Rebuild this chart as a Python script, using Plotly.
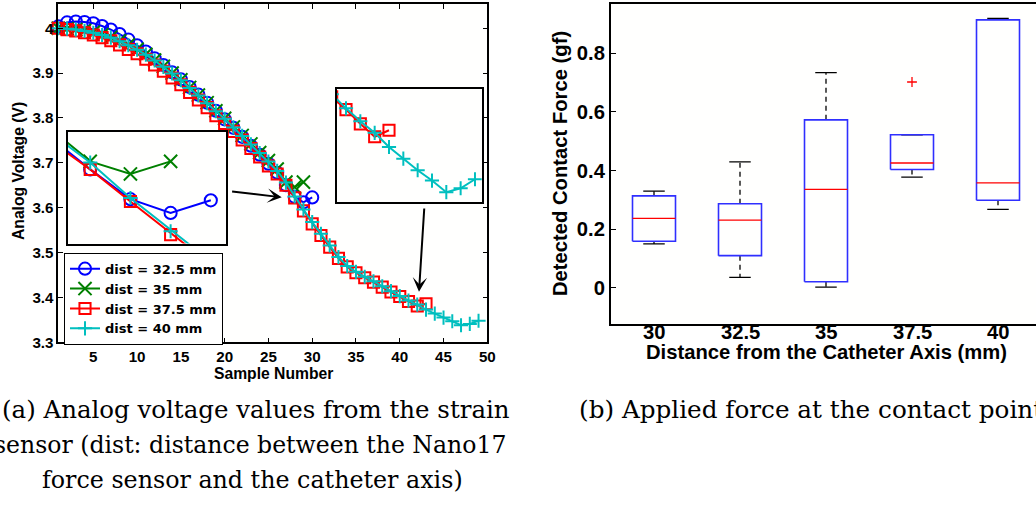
import plotly.graph_objects as go

# ---------------- data ----------------
series_names = ["dist = 32.5 mm", "dist = 35 mm", "dist = 37.5 mm", "dist = 40 mm"]

v_325 = [4.004, 4.013, 4.015, 4.014, 4.011, 4.005, 3.997, 3.987, 3.975, 3.962,
         3.948, 3.933, 3.918, 3.902, 3.886, 3.869, 3.852, 3.834, 3.816, 3.797,
         3.778, 3.758, 3.738, 3.718, 3.698, 3.678, 3.650, 3.624, 3.612, 3.623]
v_35 = [4.000, 3.999, 3.997, 3.995, 3.991, 3.986, 3.980, 3.972, 3.963, 3.953,
        3.942, 3.929, 3.915, 3.900, 3.885, 3.868, 3.851, 3.834, 3.816, 3.799,
        3.780, 3.761, 3.742, 3.723, 3.705, 3.686, 3.657, 3.646, 3.657]
v_375 = [4.000, 3.997, 3.994, 3.990, 3.985, 3.979, 3.972, 3.963, 3.953, 3.943,
         3.931, 3.918, 3.904, 3.889, 3.874, 3.857, 3.840, 3.823, 3.805, 3.788,
         3.770, 3.751, 3.732, 3.713, 3.693, 3.675, 3.650, 3.622, 3.593, 3.564,
         3.538, 3.512, 3.487, 3.468, 3.455, 3.444, 3.434, 3.423, 3.412, 3.402,
         3.391, 3.381, 3.386]
v_40 = [4.000, 3.999, 3.997, 3.994, 3.990, 3.985, 3.979, 3.971, 3.962, 3.952,
        3.941, 3.928, 3.914, 3.899, 3.884, 3.867, 3.850, 3.833, 3.815, 3.798,
        3.779, 3.760, 3.741, 3.722, 3.703, 3.682, 3.656, 3.625, 3.596, 3.568,
        3.542, 3.516, 3.490, 3.470, 3.457, 3.446, 3.436, 3.425, 3.414, 3.403,
        3.393, 3.384, 3.373, 3.364, 3.355, 3.347, 3.338, 3.341, 3.348]

x_ticks = [5, 10, 15, 20, 25, 30, 35, 40, 45, 50]
y_ticks = [3.3, 3.4, 3.5, 3.6, 3.7, 3.8, 3.9, 4.0]
y_ticktext = ["3.3", "3.4", "3.5", "3.6", "3.7", "3.8", "3.9", "4"]

# box plot (b)
box_cats = ["30", "32.5", "35", "37.5", "40"]
box_q1 = [0.159, 0.110, 0.021, 0.404, 0.299]
box_med = [0.237, 0.231, 0.336, 0.426, 0.358]
box_q3 = [0.314, 0.287, 0.573, 0.522, 0.914]
box_lo = [0.150, 0.036, 0.003, 0.378, 0.268]
box_hi = [0.330, 0.430, 0.734, 0.522, 0.919]
outlier_cat = ["37.5"]
outlier_val = [0.702]
box_yticks = [0, 0.2, 0.4, 0.6, 0.8]
box_yticktext = ["0", "0.2", "0.4", "0.6", "0.8"]

# ---------------- helpers ----------------
RW, RH = 1036, 506           # target picture size
W, H = 1044, 514             # figure size (picture is taken slightly larger and scaled)
SX, SY = W / RW, H / RH
FS = (SX + SY) / 2
def px(x):
    return x / RW
def py(y):
    return 1 - y / RH

SANS = "Liberation Sans"
SERIF = "DejaVu Serif"

styles = [
    dict(color="#0000ff", symbol="circle-open", size=12),
    dict(color="#008000", symbol="x-thin", size=13),
    dict(color="#ff0000", symbol="square-open", size=11),
    dict(color="#00bfbf", symbol="cross-thin", size=10),
]
values = [v_325, v_35, v_375, v_40]

fig = go.Figure()

for (xa, ya, main) in [("x", "y", True), ("x3", "y3", False), ("x4", "y4", False)]:
    for name, vals, st in zip(series_names, values, styles):
        fig.add_trace(go.Scatter(
            x=list(range(1, len(vals) + 1)), y=vals, name=name,
            mode="lines+markers", xaxis=xa, yaxis=ya,
            showlegend=main, cliponaxis=not main,
            line=dict(color=st["color"], width=2),
            marker=dict(symbol=st["symbol"], size=st["size"] * FS, color=st["color"],
                        line=dict(color=st["color"], width=2)),
            hoverinfo="skip",
        ))

# ---------------- box plot drawn from data ----------------
pos = {c: i + 1 for i, c in enumerate(box_cats)}
hw, cw = 0.25, 0.125
bx, by, mx, my, wx, wy, cx, cy = [], [], [], [], [], [], [], []
for c, a, m, b, lo, hi in zip(box_cats, box_q1, box_med, box_q3, box_lo, box_hi):
    p = pos[c]
    bx += [p - hw, p + hw, p + hw, p - hw, p - hw, None]
    by += [a, a, b, b, a, None]
    mx += [p - hw, p + hw, None]
    my += [m, m, None]
    wx += [p, p, None, p, p, None]
    wy += [b, hi, None, a, lo, None]
    cx += [p - cw, p + cw, None, p - cw, p + cw, None]
    cy += [hi, hi, None, lo, lo, None]

common = dict(xaxis="x2", yaxis="y2", showlegend=False, hoverinfo="skip", mode="lines")
fig.add_trace(go.Scatter(x=wx, y=wy, line=dict(color="black", width=1.3, dash="5px,4px"), **common))
fig.add_trace(go.Scatter(x=cx, y=cy, line=dict(color="black", width=1.3), **common))
fig.add_trace(go.Scatter(x=bx, y=by, line=dict(color="#2f2fff", width=1.6), **common))
fig.add_trace(go.Scatter(x=mx, y=my, line=dict(color="#ff0000", width=1.4), **common))
fig.add_trace(go.Scatter(x=[pos[c] for c in outlier_cat], y=outlier_val, xaxis="x2", yaxis="y2",
                         mode="markers", showlegend=False, hoverinfo="skip",
                         marker=dict(symbol="cross-thin", size=7, color="#ff0000",
                                     line=dict(color="#ff0000", width=1.3))))

# ---------------- layout ----------------
tickfont_a = dict(family=SANS, size=15 * FS, weight="bold", color="black")
tickfont_b = dict(family=SANS, size=20 * FS, weight="bold", color="black")
frame = dict(showline=True, linecolor="black", linewidth=1.5, showgrid=False, zeroline=False)

x2_left = 611.0
x2_step = 86.0  # picture pixels between two boxes
fig.update_layout(
    width=W, height=H, margin=dict(l=0, r=0, t=0, b=0),
    paper_bgcolor="#ffffff", plot_bgcolor="#fffffe",
    showlegend=True,
    xaxis=dict(domain=[px(58.3), px(487.3)], range=[1, 50], tickvals=x_ticks,
               ticks="inside", ticklen=5, tickcolor="black", mirror="ticks",
               tickfont=tickfont_a, anchor="y", **frame),
    yaxis=dict(domain=[py(342.3), py(4)], range=[3.3, 4.054], tickvals=y_ticks,
               ticktext=y_ticktext, ticks="inside", ticklen=5, tickcolor="black",
               mirror="ticks", tickfont=tickfont_a, anchor="x", **frame),
    xaxis3=dict(domain=[px(67.7), px(225.7)], range=[26.44, 30.37], ticks="",
                showticklabels=False, mirror=True, anchor="y3", **frame),
    yaxis3=dict(domain=[py(243.5), py(131.7)], range=[3.5853, 3.6829], ticks="",
                showticklabels=False, mirror=True, anchor="x3", **frame),
    xaxis4=dict(domain=[px(336.7), px(481.7)], range=[39.35, 49.47], ticks="",
                showticklabels=False, mirror=True, anchor="y4", **frame),
    yaxis4=dict(domain=[py(201.7), py(89)], range=[3.3306, 3.418], ticks="",
                showticklabels=False, mirror=True, anchor="x4", **frame),
    xaxis2=dict(domain=[px(x2_left), 1.0], range=[0.5, 0.5 + (RW - x2_left) / x2_step],
                tickvals=[pos[c] for c in box_cats], showticklabels=False, ticks="",
                mirror=True, anchor="y2",
                showline=True, linecolor="black", linewidth=2, showgrid=False, zeroline=False),
    yaxis2=dict(domain=[py(324.3), py(4)], range=[-0.124, 0.968],
                tickvals=box_yticks, ticktext=box_yticktext, ticks="inside", ticklen=5,
                tickcolor="black", tickfont=tickfont_b, anchor="x2",
                showline=True, linecolor="black", linewidth=2, showgrid=False, zeroline=False),
    legend=dict(x=px(64), y=py(252.7), xanchor="left", yanchor="top",
                bgcolor="white", bordercolor="black", borderwidth=1,
                font=dict(family="DejaVu Sans", size=13, weight="bold", color="black"),
                tracegroupgap=0),
)

# category tick labels of the box plot, placed tight under the axis
for c in box_cats:
    fig.add_annotation(xref="x2", yref="paper", x=pos[c], y=py(331.5), text=c,
                       showarrow=False, xanchor="center", yanchor="middle",
                       font=dict(family=SANS, size=20 * FS, weight="bold", color="black"))

annots = [
    dict(text="Sample Number", x=px(273), y=py(373),
         font=dict(family=SANS, size=15.5 * FS, weight="bold", color="black")),
    dict(text="Analog Voltage (V)", x=px(18), y=py(171), textangle=-90,
         font=dict(family=SANS, size=15.5 * FS, weight="bold", color="black")),
    dict(text="Distance from the Catheter Axis (mm)", x=px(826), y=py(352),
         font=dict(family=SANS, size=20 * FS, weight="bold", color="black")),
    dict(text="Detected Contact Force (gf)", x=px(560), y=py(164), textangle=-90,
         font=dict(family=SANS, size=20 * FS, weight="bold", color="black")),
    dict(text="(a) Analog voltage values from the strain", x=px(256), y=py(409),
         font=dict(family=SERIF, size=24.2 * FS, color="black")),
    dict(text="sensor (dist: distance between the Nano17", x=px(508), y=py(445),
         xanchor="right", font=dict(family=SERIF, size=23.3 * FS, color="black")),
    dict(text="force sensor and the catheter axis)", x=px(252), y=py(480),
         font=dict(family=SERIF, size=23.5 * FS, color="black")),
    dict(text="(b) Applied force at the contact point", x=px(576.5), y=py(409),
         xanchor="left", font=dict(family=SERIF, size=24.4 * FS, color="black")),
]
for a in annots:
    a.setdefault("xanchor", "center")
    fig.add_annotation(xref="paper", yref="paper", showarrow=False, yanchor="middle", **a)

# arrows
for tip, tail in [((281.7, 197.3), (231.0, 191.5)), ((419.0, 291.7), (424.3, 208.3))]:
    fig.add_annotation(xref="paper", yref="paper", x=px(tip[0]), y=py(tip[1]),
                       axref="pixel", ayref="pixel",
                       ax=(tail[0] - tip[0]) * SX, ay=(tail[1] - tip[1]) * SY,
                       text="", showarrow=True, arrowhead=3, arrowsize=1.2, arrowwidth=2,
                       arrowcolor="black")

fig.write_html(
    "out.html",
    config={"displayModeBar": False},
    post_script="document.body.style.margin='0';document.body.style.overflow='hidden';",
)
